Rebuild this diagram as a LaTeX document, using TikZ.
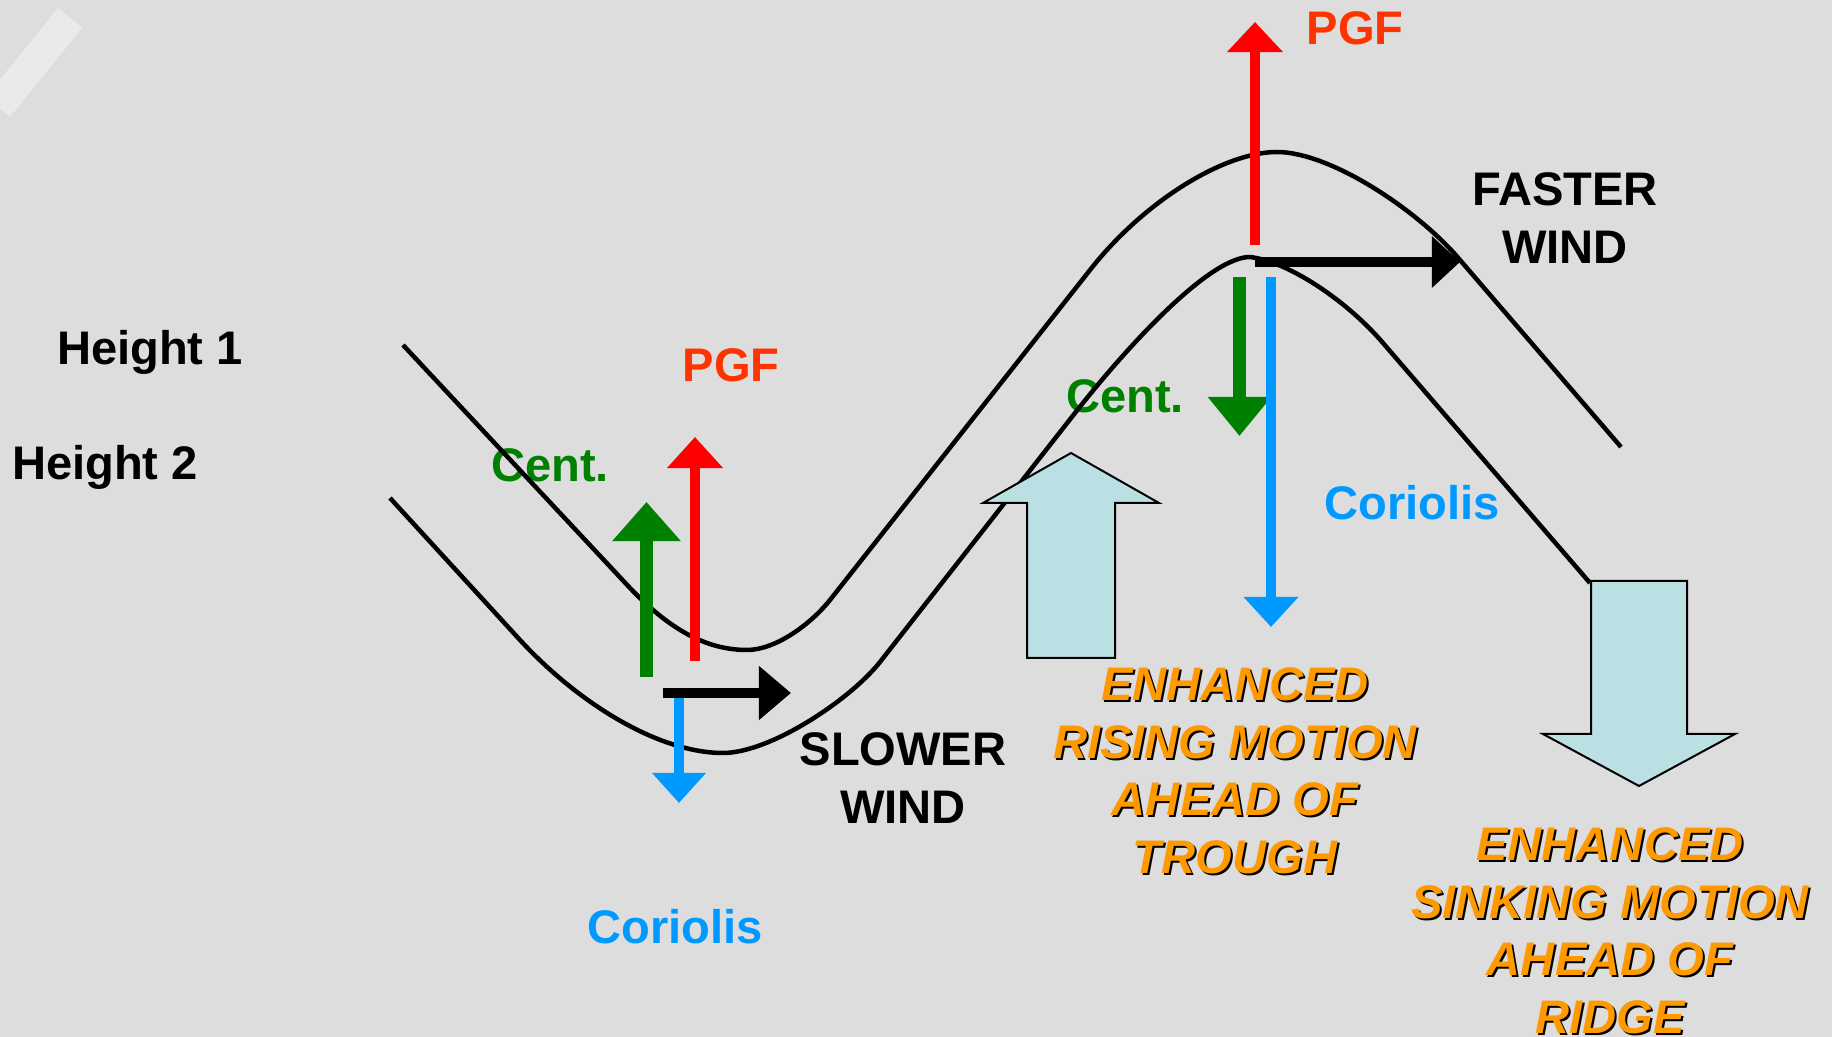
\documentclass[tikz,border=0pt]{standalone}
\usepackage{fontspec}
\setmainfont{Liberation Sans}
\usetikzlibrary{arrows.meta}
\definecolor{bg}{RGB}{221,221,221}
\definecolor{stripe}{RGB}{234,234,234}
\definecolor{pgfred}{RGB}{255,0,0}
\definecolor{pgftext}{RGB}{255,51,0}
\definecolor{centgreen}{RGB}{0,128,0}
\definecolor{corblue}{RGB}{0,153,255}
\definecolor{blockfill}{RGB}{187,224,227}
\definecolor{motion}{RGB}{255,153,0}
\begin{document}
\begin{tikzpicture}[x=0.01cm,y=-0.01cm,
  lbl/.style={inner sep=0pt, font=\bfseries\fontsize{13.4}{16.4}\selectfont},
  mot/.style={inner sep=0pt, align=center, anchor=north, font=\bfseries\itshape\fontsize{13.4}{16.4}\selectfont},
  contour/.style={draw=black, line width=0.45mm, line join=round},
  force/.style={line width=1mm},
  fatforce/.style={line width=1.3mm},
  block/.style={draw=black, line width=0.2mm, fill=blockfill, line join=miter}
]
\useasboundingbox (0,0) rectangle (1832,1037);
\fill[bg] (0,0) rectangle (1832,1037);
\begin{scope}
\clip (0,0) rectangle (1832,1037);
\fill[stripe] (58,8) -- (82,28) -- (10,117) -- (-14,97) -- cycle;
\end{scope}

% labels
\node[lbl, anchor=base] (h1) at (150,365) {Height 1};
\node[lbl, anchor=base] (h2) at (105,480) {Height 2};
\node[lbl, text=centgreen, anchor=base] (centL) at (550,482) {Cent.};
\node[lbl, text=pgftext, anchor=base] (pgfL) at (731,382) {PGF};
\node[lbl, anchor=north, align=center] (slow) at (903,732) {SLOWER\\WIND};
\node[lbl, text=corblue, anchor=base] (corL) at (675,944) {Coriolis};
\node[lbl, text=pgftext, anchor=base] (pgfR) at (1355,45) {PGF};
\node[lbl, anchor=north, align=center] (fast) at (1565,172) {FASTER\\WIND};
\node[lbl, text=centgreen, anchor=base] (centR) at (1125,413) {Cent.};
\node[lbl, text=corblue, anchor=base] (corR) at (1412,520) {Coriolis};

\node[mot, text=black] (riseS) at (1237,669) {ENHANCED\\RISING MOTION\\AHEAD OF\\TROUGH};
\node[mot, text=motion] (rise) at (1235,667) {ENHANCED\\RISING MOTION\\AHEAD OF\\TROUGH};
\node[mot, text=black] (sinkS) at (1612,829) {ENHANCED\\SINKING MOTION\\AHEAD OF\\RIDGE};
\node[mot, text=motion] (sink) at (1610,827) {ENHANCED\\SINKING MOTION\\AHEAD OF\\RIDGE};

% height contours
\draw[contour] (403,345) -- (630,588)
  .. controls (670,630) and (707,650) .. (747,650)
  .. controls (775,650) and (810,625) .. (830,600)
  -- (1090,270)
  .. controls (1145,200) and (1225,152) .. (1277,152)
  .. controls (1330,152) and (1418,210) .. (1460,260)
  -- (1621,447);
\draw[contour] (390,498) -- (520,640)
  .. controls (580,705) and (660,753) .. (723,753)
  .. controls (770,753) and (850,700) .. (880,662)
  -- (1075,413)
  .. controls (1130,343) and (1210,257) .. (1250,257)
  .. controls (1290,262) and (1348,302) .. (1383,343)
  -- (1590,583);

% forces at trough
\coordinate (gL0) at (646.5,677); \coordinate (gL1) at (646.5,502);
\coordinate (rL0) at (695,661);   \coordinate (rL1) at (695,437);
\coordinate (kL0) at (663,693);   \coordinate (kL1) at (791,693);
\coordinate (bL0) at (679,698);   \coordinate (bL1) at (679,803);
\draw[fatforce, centgreen, -{Triangle[length=3.9mm,width=6.6mm]}] (gL0) -- (gL1);
\draw[force, pgfred, -{Triangle[length=3.1mm,width=5.4mm]}] (rL0) -- (rL1);
\draw[force, corblue, -{Triangle[length=3.0mm,width=5.2mm]}] (bL0) -- (bL1);
\draw[force, black, -{Triangle[length=3.2mm,width=5.2mm]}] (kL0) -- (kL1);

% forces at ridge
\coordinate (rR0) at (1255,245);   \coordinate (rR1) at (1255,22);
\coordinate (kR0) at (1255,262);   \coordinate (kR1) at (1460,262);
\coordinate (gR0) at (1239.5,277); \coordinate (gR1) at (1239.5,436);
\coordinate (bR0) at (1271,277);   \coordinate (bR1) at (1271,627);
\draw[force, pgfred, -{Triangle[length=3.0mm,width=5.4mm]}] (rR0) -- (rR1);
\draw[force, black, -{Triangle[length=2.8mm,width=5.0mm]}] (kR0) -- (kR1);
\draw[fatforce, centgreen, -{Triangle[length=3.9mm,width=6.1mm]}] (gR0) -- (gR1);
\draw[force, corblue, -{Triangle[length=3.0mm,width=5.3mm]}] (bR0) -- (bR1);

% vertical motion block arrows
\draw[block] (1027,658) -- (1027,503) -- (983,503) -- (1071,453) -- (1159,503) -- (1115,503) -- (1115,658) -- cycle;
\draw[block] (1591,581) -- (1687,581) -- (1687,734) -- (1735,734) -- (1639,786) -- (1543,734) -- (1591,734) -- cycle;
\end{tikzpicture}
\end{document}
